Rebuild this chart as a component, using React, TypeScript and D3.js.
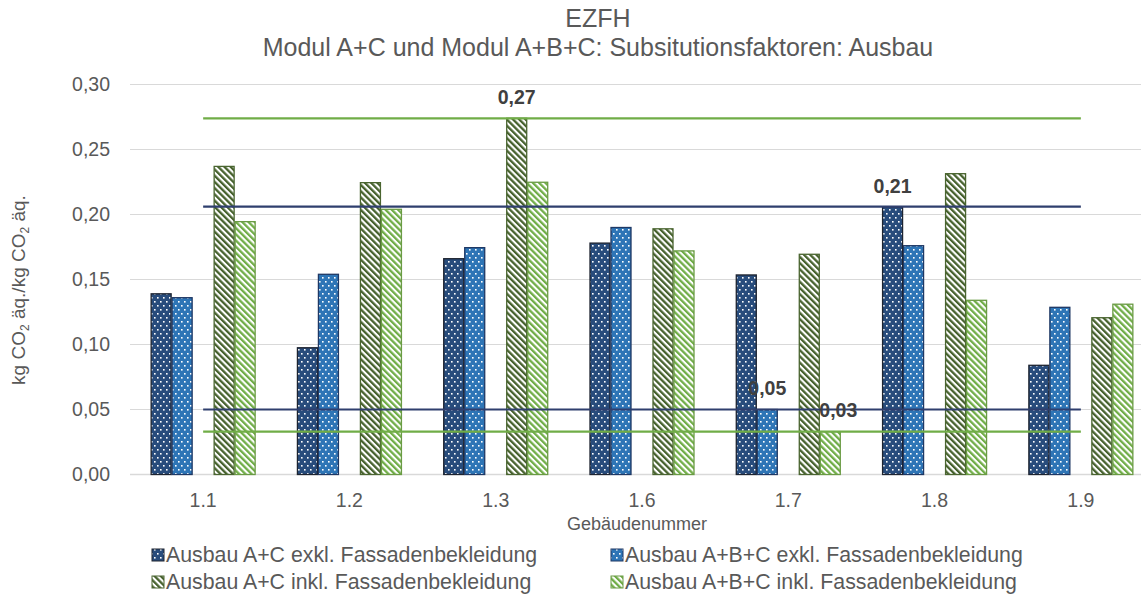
import React from "react";
import * as d3 from "d3";

const categories = ["1.1", "1.2", "1.3", "1.6", "1.7", "1.8", "1.9"];
const acExkl = [0.139, 0.0975, 0.166, 0.178, 0.1535, 0.206, 0.084];
const abcExkl = [0.136, 0.154, 0.1745, 0.19, 0.05, 0.176, 0.1286];
const acInkl = [0.237, 0.2245, 0.274, 0.189, 0.1694, 0.2314, 0.1206];
const abcInkl = [0.1945, 0.204, 0.2248, 0.172, 0.033, 0.134, 0.131];
const seriesNames = [
  "Ausbau A+C exkl. Fassadenbekleidung",
  "Ausbau A+B+C exkl. Fassadenbekleidung",
  "Ausbau A+C inkl. Fassadenbekleidung",
  "Ausbau A+B+C inkl. Fassadenbekleidung",
];
const refValues = [0.206, 0.05, 0.274, 0.033];
const yTicks = [0, 0.05, 0.1, 0.15, 0.2, 0.25, 0.3];
// labelled bars: [series index, category index]
const labelled = [
  [2, 2],
  [0, 5],
  [1, 4],
  [3, 4],
];

const W = 1141;
const H = 597;
const left = 130;
const right = 1154;
const top = 84.5;
const bottom = 474.5;

const fills = ["url(#p0)", "url(#p1)", "url(#p2)", "url(#p3)"];
const strokes = ["#1e2430", "#1f3864", "#4a6530", "#6a9b44"];
const lineColors = ["#2f3f6e", "#2f3f6e", "#70ad47", "#70ad47"];
const FONT = "'Liberation Sans', Arial, sans-serif";

export default function App() {
  const series = [acExkl, abcExkl, acInkl, abcInkl];
  const x = d3.scaleBand<string>().domain(categories).range([left, right]).padding(0);
  const bw = x.bandwidth();
  const slotW = 21;
  const inner = d3
    .scaleBand<string>()
    .domain(["s0", "s1", "gap", "s2", "s3"])
    .range([(bw - 5 * slotW) / 2, (bw + 5 * slotW) / 2]);
  const slotKeys = ["s0", "s1", "s2", "s3"];
  const y = d3.scaleLinear().domain([0, 0.3]).range([bottom, top]);
  const fmt = (v: number) => d3.format(".2f")(v).replace(".", ",");
  const cx0 = (x(categories[0]) as number) + bw / 2;
  const cx1 = (x(categories[categories.length - 1]) as number) + bw / 2;

  const legendItems = [
    { i: 0, sx: 152, sy: 555 },
    { i: 1, sx: 611, sy: 555 },
    { i: 2, sx: 152, sy: 582 },
    { i: 3, sx: 611, sy: 582 },
  ];

  return (
    <svg
      width={W}
      height={H}
      style={{ position: "absolute", left: 0, top: 0, background: "#fff" }}
      fontFamily={FONT}
    >
      <defs>
        <pattern id="p0" width="6" height="8" patternUnits="userSpaceOnUse">
          <rect width="6" height="8" fill="#284c7c" />
          <rect x="1" y="1" width="1.6" height="1.6" fill="#fff" />
          <rect x="4" y="5" width="1.6" height="1.6" fill="#fff" />
        </pattern>
        <pattern id="p1" width="6" height="8" patternUnits="userSpaceOnUse">
          <rect width="6" height="8" fill="#2e75b6" />
          <rect x="1" y="1" width="1.6" height="1.6" fill="#fff" />
          <rect x="4" y="5" width="1.6" height="1.6" fill="#fff" />
        </pattern>
        <pattern
          id="p2"
          width="4.4"
          height="4.4"
          patternUnits="userSpaceOnUse"
          patternTransform="rotate(-45)"
        >
          <rect width="4.4" height="4.4" fill="#fff" />
          <rect width="2.3" height="4.4" fill="#46612d" />
        </pattern>
        <pattern
          id="p3"
          width="4.4"
          height="4.4"
          patternUnits="userSpaceOnUse"
          patternTransform="rotate(-45)"
        >
          <rect width="4.4" height="4.4" fill="#fff" />
          <rect width="2.3" height="4.4" fill="#70ad47" />
        </pattern>
      </defs>

      {/* title */}
      <text x={598} y={26.5} textAnchor="middle" fontSize={25} fill="#595959">
        EZFH
      </text>
      <text x={598} y={55.5} textAnchor="middle" fontSize={25} fill="#595959">
        Modul A+C und Modul A+B+C: Subsitutionsfaktoren: Ausbau
      </text>

      {/* grid */}
      {yTicks.map((t) => (
        <g key={t}>
          <line
            x1={left}
            x2={right}
            y1={y(t)}
            y2={y(t)}
            stroke="#d9d9d9"
            strokeWidth={t === 0 ? 1.5 : 1.2}
          />
          <text
            x={110}
            y={y(t)}
            dy="0.35em"
            textAnchor="end"
            fontSize={19.5}
            fill="#595959"
          >
            {fmt(t)}
          </text>
        </g>
      ))}

      {/* bars */}
      {series.map((vals, si) =>
        vals.map((v, ci) => {
          const bx = (x(categories[ci]) as number) + (inner(slotKeys[si]) as number);
          return (
            <rect
              key={`${si}-${ci}`}
              x={bx + 0.5}
              y={y(v)}
              width={inner.bandwidth() - 1}
              height={bottom - y(v)}
              fill={fills[si]}
              stroke={strokes[si]}
              strokeWidth={1.3}
            />
          );
        })
      )}

      {/* reference lines */}
      {refValues.map((v, i) => (
        <line
          key={i}
          x1={cx0}
          x2={cx1}
          y1={y(v)}
          y2={y(v)}
          stroke={lineColors[i]}
          strokeWidth={2.2}
        />
      ))}

      {/* data labels */}
      {labelled.map(([si, ci], k) => {
        const v = series[si][ci];
        const bx =
          (x(categories[ci]) as number) +
          (inner(slotKeys[si]) as number) +
          inner.bandwidth() / 2;
        return (
          <text
            key={k}
            x={bx + (si === 3 ? 8 : 0)}
            y={y(v) - 21}
            dy="0.35em"
            textAnchor="middle"
            fontSize={19.5}
            fontWeight="bold"
            fill="#404040"
          >
            {fmt(v)}
          </text>
        );
      })}

      {/* x ticks */}
      {categories.map((c) => (
        <text
          key={c}
          x={(x(c) as number) + bw / 2}
          y={500}
          dy="0.35em"
          textAnchor="middle"
          fontSize={19.5}
          fill="#595959"
        >
          {c}
        </text>
      ))}

      {/* axis titles */}
      <text x={637} y={524} dy="0.35em" textAnchor="middle" fontSize={18} fill="#595959">
        Gebäudenummer
      </text>
      <text
        transform="translate(25,290) rotate(-90)"
        textAnchor="middle"
        fontSize={19}
        fill="#595959"
      >
        kg CO<tspan fontSize={12} dy={4}>2</tspan>
        <tspan dy={-4}> äq./kg CO</tspan>
        <tspan fontSize={12} dy={4}>2</tspan>
        <tspan dy={-4}> äq.</tspan>
      </text>

      {/* legend */}
      {legendItems.map(({ i, sx, sy }) => (
        <g key={i}>
          <rect
            x={sx}
            y={sy - 6}
            width={12}
            height={12}
            fill={fills[i]}
            stroke={strokes[i]}
            strokeWidth={1}
          />
          <text x={sx + 14} y={sy} dy="0.35em" fontSize={21.3} fill="#595959">
            {seriesNames[i]}
          </text>
        </g>
      ))}
    </svg>
  );
}
